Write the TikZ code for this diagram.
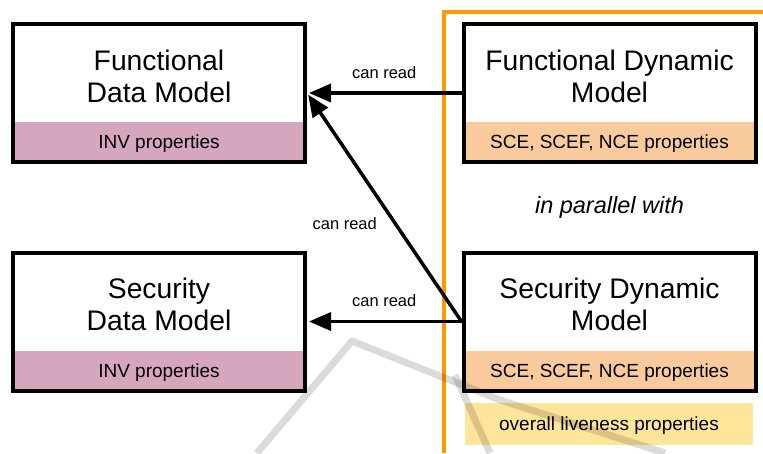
\documentclass[tikz,border=0pt]{standalone}
\usepackage{fontspec}
\setmainfont{Liberation Sans}
\usetikzlibrary{arrows.meta}
\definecolor{invpink}{HTML}{D5A6BD}
\definecolor{scepeach}{HTML}{F9CB9C}
\definecolor{liveyellow}{HTML}{FFE599}
\definecolor{parorange}{HTML}{FF9900}

\begin{document}
\begin{tikzpicture}[x=1pt, y=-1pt,
  model/.style={draw, line width=4pt, minimum width=292pt, minimum height=138pt, inner sep=0pt,
    path picture={\fill[#1] (path picture bounding box.south west) rectangle ([yshift=40pt]path picture bounding box.south east);}},
  title/.style={align=center, font=\fontsize{28.3}{32}\selectfont},
  prop/.style={anchor=base, font=\fontsize{19}{22}\selectfont},
  reads/.style={line width=3.5pt, -{Triangle[length=22pt,width=18pt]}, shorten >=2pt},
  lbl/.style={inner sep=0pt, font=\fontsize{16.5}{19}\selectfont}]
\useasboundingbox (0,0) rectangle (763,453);
% parallel frame
\draw[parorange, line width=4pt] (444,453) -- (444,12) -- (763,12);
% data models, left
\node[model=invpink] (fdm) at (159,93) {};
\node[title] (fdm-title) at (159,76) {Functional\\Data Model};
\node[prop] (fdm-prop) at (159,148) {INV properties};
\node[model=invpink] (sdm) at (159,321.5) {};
\node[title] (sdm-title) at (159,304.5) {Security\\Data Model};
\node[prop] (sdm-prop) at (159,377) {INV properties};
% dynamic models, right
\node[model=scepeach] (fdyn) at (609.5,93) {};
\node[title] (fdyn-title) at (609.5,76) {Functional Dynamic\\Model};
\node[prop] (fdyn-prop) at (609.5,148) {SCE, SCEF, NCE properties};
\node[model=scepeach] (sdyn) at (609.5,321.5) {};
\node[title] (sdyn-title) at (609.5,304.5) {Security Dynamic\\Model};
\node[prop] (sdyn-prop) at (609.5,377) {SCE, SCEF, NCE properties};
\node[font=\itshape\fontsize{23.5}{27}\selectfont] (par) at (609.5,207) {in parallel with};
% liveness
\node[fill=liveyellow, minimum width=288pt, minimum height=42pt, inner sep=0pt] (live) at (609,424) {};
\node[prop] (live-prop) at (609,430) {overall liveness properties};
% can read
\draw[reads] (fdyn.west) -- (fdm.east) node[lbl, midway, above=13pt] {can read};
\draw[reads] (sdyn.west) -- (sdm.east) node[lbl, midway, above=13pt] {can read};
\draw[reads] (sdyn.west) -- (fdm.east) node[lbl, pos=0.43, left=16.5pt] {can read};
% watermark
\draw[black, opacity=0.14, line width=7pt, line join=round] (257,453) -- (352,341) -- (500,400) -- (665,453);
\draw[black, opacity=0.14, line width=7pt] (455,375) -- (490,453);
\end{tikzpicture}
\end{document}
